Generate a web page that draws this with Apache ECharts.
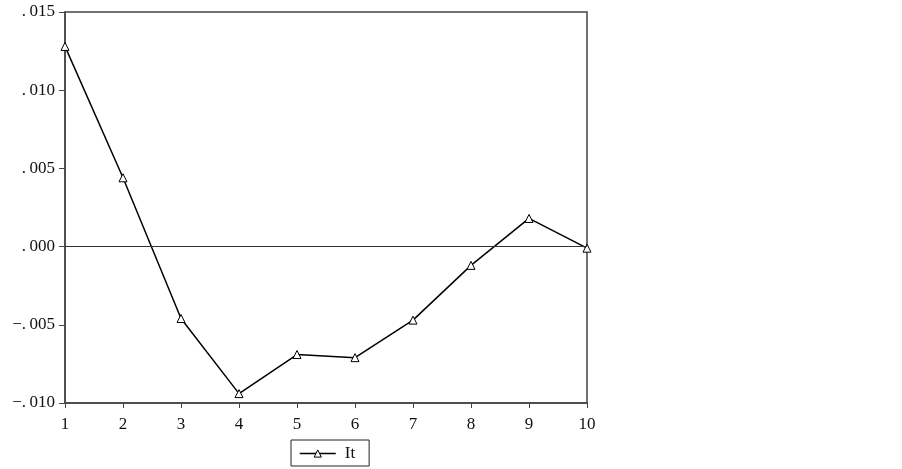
<!DOCTYPE html>
<html>
<head>
<meta charset="utf-8">
<script src="https://cdn.jsdelivr.net/npm/echarts@6/dist/echarts.min.js"></script>
<style>
  html, body { margin: 0; padding: 0; background: #fff; }
  #main { width: 902px; height: 469px; }
</style>
</head>
<body>
<div id="main"></div>
<script>
var periods = ['1', '2', '3', '4', '5', '6', '7', '8', '9', '10'];
var itValues = [0.0128, 0.0044, -0.0046, -0.0094, -0.0069, -0.0071, -0.0047, -0.0012, 0.0018, -0.0001];
var seriesName = 'It';

// labels look like ". 015", "−. 005"
function fmtTick(v) {
    var s = Math.abs(v).toFixed(3).slice(2);
    return (v < -1e-9 ? '\u2212' : '') + '.\u2009' + s;
}

var serif = '"Liberation Serif", "DejaVu Serif", serif';

echarts.init(document.getElementById('main')).setOption({
    animation: false,
    backgroundColor: '#fff',
    grid: {
        left: 65, right: 315, top: 12, bottom: 66,
        show: true,
        borderColor: '#444',
        borderWidth: 1.5,
        backgroundColor: 'transparent'
    },
    legend: {
        data: [seriesName],
        left: 291, top: 440,
        padding: [5, 14, 4, 8],
        itemWidth: 36, itemHeight: 9,
        itemGap: 4,
        borderColor: '#222',
        borderWidth: 1,
        itemStyle: { color: '#fff', borderColor: '#000', borderWidth: 1 },
        lineStyle: { color: '#000', width: 1.5 },
        textStyle: { fontFamily: serif, fontSize: 17, color: '#111', padding: [0, 0, 0, 4] }
    },
    xAxis: {
        type: 'category',
        data: periods,
        boundaryGap: false,
        axisLine: { onZero: false, lineStyle: { color: '#444', width: 1.5 } },
        axisTick: { alignWithLabel: true, length: 5, lineStyle: { color: '#444' } },
        axisLabel: { fontFamily: serif, fontSize: 17, color: '#111', margin: 13 },
        splitLine: { show: false }
    },
    yAxis: {
        type: 'value',
        min: -0.010, max: 0.015, interval: 0.005,
        axisLine: { show: true, lineStyle: { color: '#444', width: 1.5 } },
        axisTick: { show: true, length: 6, lineStyle: { color: '#444' } },
        axisLabel: { fontFamily: serif, fontSize: 17, color: '#111', margin: 10, formatter: fmtTick },
        splitLine: { show: false }
    },
    series: [
        {
            name: seriesName,
            type: 'line',
            data: itValues,
            symbol: 'triangle',
            symbolSize: 8,
            showAllSymbol: true,
            lineStyle: { color: '#000', width: 1.5 },
            itemStyle: { color: '#fff', borderColor: '#000', borderWidth: 1 },
            markLine: {
                silent: true,
                symbol: 'none',
                label: { show: false },
                lineStyle: { color: '#333', width: 1, type: 'solid' },
                data: [{ yAxis: 0 }]
            }
        }
    ]
});
</script>
</body>
</html>
